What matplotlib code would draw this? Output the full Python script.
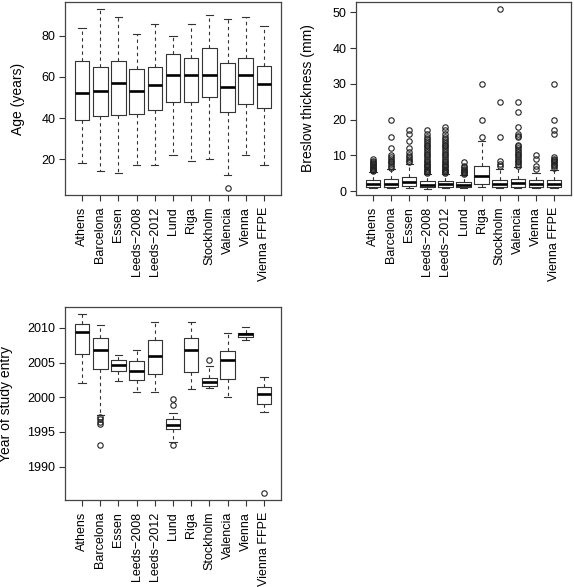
import matplotlib
matplotlib.use("Agg")
import matplotlib.pyplot as plt

plt.rcParams['font.family'] = ['Liberation Sans', 'DejaVu Sans']

categories = ["Athens", "Barcelona", "Essen", "Leeds\u22122008", "Leeds\u22122012",
              "Lund", "Riga", "Stockholm", "Valencia", "Vienna", "Vienna FFPE"]

# Age (years)
age_lo = [18, 14, 13, 17, 17, 22, 19, 20, 12, 22, 17]
age_q1 = [39, 41, 41.5, 42, 44, 48, 48, 50, 43, 47, 45]
age_med = [52, 53, 57, 53, 56, 61, 61, 61, 55, 61, 56.5]
age_q3 = [68, 65, 68, 64, 65, 71, 69, 74, 67, 69, 65.5]
age_hi = [84, 93, 89, 81, 86, 80, 86, 90, 88, 89, 85]
age_fliers = [[], [], [], [], [], [], [], [], [6], [], []]

# Breslow thickness (mm)
br_lo = [0.8, 0.8, 0.8, 0.7, 0.8, 0.8, 1.0, 0.8, 0.8, 0.8, 0.8]
br_q1 = [1.1, 1.1, 1.3, 1.0, 1.1, 1.0, 2.1, 1.0, 1.2, 1.2, 1.2]
br_med = [2.0, 2.1, 2.6, 1.8, 2.0, 1.7, 4.3, 2.0, 2.2, 2.0, 2.1]
br_q3 = [3.0, 3.3, 4.0, 2.7, 2.8, 2.5, 7.1, 3.0, 3.5, 3.0, 3.2]
br_hi = [5.3, 6.2, 7.7, 4.9, 4.9, 4.5, 14.0, 6.3, 6.8, 5.1, 5.9]
br_fliers = [
    [5.5, 5.8, 6.0, 6.3, 6.5, 6.8, 7.0, 7.3, 7.5, 7.8, 8.0, 8.5, 9.0],
    [6.5, 7.0, 7.5, 8.0, 8.5, 9.0, 9.5, 10.0, 12.0, 15.0, 20.0],
    [8.0, 8.5, 9.0, 9.5, 10.0, 11.0, 12.0, 14.0, 16.0, 17.0],
    [5.0, 5.3, 5.6, 6.0, 6.3, 6.6, 7.0, 7.3, 7.6, 8.0, 8.5, 9.0, 9.5, 10.0,
     10.5, 11.0, 11.5, 12.0, 12.5, 13.0, 13.5, 14.0, 14.5, 15.0, 16.0, 17.0],
    [5.0, 5.3, 5.6, 6.0, 6.3, 6.6, 7.0, 7.3, 7.6, 8.0, 8.5, 9.0, 9.5, 10.0,
     10.5, 11.0, 11.5, 12.0, 12.5, 13.0, 13.5, 14.0, 14.5, 15.0, 16.0, 17.0, 18.0],
    [4.8, 5.0, 5.3, 5.6, 6.0, 6.3, 6.6, 7.0, 8.0],
    [15.0, 20.0, 30.0],
    [7.0, 7.6, 8.3, 15.0, 25.0, 51.0],
    [7.0, 7.5, 8.0, 8.5, 9.0, 9.5, 10.0, 10.5, 11.0, 11.5, 12.0, 12.5, 13.0,
     15.0, 15.5, 16.0, 18.0, 22.0, 25.0],
    [6.3, 7.0, 9.0, 10.0],
    [6.5, 7.0, 7.3, 7.6, 8.0, 8.3, 8.6, 9.0, 9.4, 16.0, 17.0, 20.0, 30.0],
]

# Year of study entry
yr_lo = [2002.0, 1997.5, 2002.4, 2000.8, 2000.7, 1993.5, 2001.2, 2001.3, 2000.0, 2008.2, 1997.9]
yr_q1 = [2006.25, 2004.1, 2003.75, 2002.45, 2003.3, 1995.4, 2003.6, 2001.6, 2002.6, 2008.65, 1999.1]
yr_med = [2009.4, 2006.8, 2004.7, 2003.8, 2006.0, 1995.95, 2006.8, 2002.25, 2005.3, 2009.05, 2000.4]
yr_q3 = [2010.6, 2008.6, 2005.3, 2005.2, 2008.3, 1996.8, 2008.5, 2002.75, 2006.7, 2009.3, 2001.5]
yr_hi = [2012.0, 2010.4, 2006.1, 2006.8, 2010.9, 1997.8, 2010.8, 2004.5, 2009.2, 2010.1, 2002.9]
yr_fliers = [[], [1997.2, 1996.9, 1996.5, 1996.2, 1993.1], [], [], [],
             [1999.8, 1998.9, 1993.1], [], [2005.3], [], [], [1986.2]]

EDGE = '#333333'


def make_stats(lo, q1, med, q3, hi, fl):
    return [dict(whislo=a, q1=b, med=c, q3=d, whishi=e, fliers=f, label=n)
            for a, b, c, d, e, f, n in zip(lo, q1, med, q3, hi, fl, categories)]


def draw(ax, stats, ylabel, ylim, yticks, ylabel_x):
    ax.bxp(stats, widths=0.8, showfliers=True, patch_artist=False,
           boxprops=dict(color=EDGE, linewidth=0.8),
           medianprops=dict(color='black', linewidth=1.9, solid_capstyle='butt'),
           whiskerprops=dict(color=EDGE, linewidth=0.8, linestyle=(0, (3, 3))),
           capprops=dict(color=EDGE, linewidth=0.8),
           capwidths=0.4,
           flierprops=dict(marker='o', markersize=3.9, markerfacecolor='none',
                           markeredgecolor='#222222', markeredgewidth=0.8))
    ax.set_xlim(0.06, 11.94)
    ax.set_ylim(*ylim)
    ax.set_yticks(yticks)
    ax.set_yticklabels([str(t) for t in yticks], fontsize=9)
    ax.set_xticks(range(1, len(categories) + 1))
    ax.set_xticklabels(categories, rotation=90, fontsize=9)
    ax.tick_params(axis='both', length=4, width=0.8, color=EDGE, pad=3)
    ax.tick_params(axis='x', pad=4.5)
    ax.set_ylabel(ylabel, fontsize=10)
    ax.yaxis.set_label_coords(ylabel_x, 0.5)
    for s in ax.spines.values():
        s.set_color('#444444')
        s.set_linewidth(0.9)


fig = plt.figure(figsize=(5.74, 5.87), dpi=100)
ax1 = fig.add_axes([65 / 574, 1 - 195 / 587, 216 / 574, 193 / 587])
ax2 = fig.add_axes([356 / 574, 1 - 195 / 587, 215 / 574, 193 / 587])
ax3 = fig.add_axes([65 / 574, 1 - 500 / 587, 216 / 574, 193 / 587])

draw(ax1, make_stats(age_lo, age_q1, age_med, age_q3, age_hi, age_fliers),
     'Age (years)', (2.5, 96.5), [20, 40, 60, 80], -0.185)
draw(ax2, make_stats(br_lo, br_q1, br_med, br_q3, br_hi, br_fliers),
     'Breslow thickness (mm)', (-1.1, 52.9), [0, 10, 20, 30, 40, 50], -0.19)
draw(ax3, make_stats(yr_lo, yr_q1, yr_med, yr_q3, yr_hi, yr_fliers),
     'Year of study entry', (1985.2, 2013.0), [1990, 1995, 2000, 2005, 2010], -0.24)

fig.savefig('out.png', dpi=100)
